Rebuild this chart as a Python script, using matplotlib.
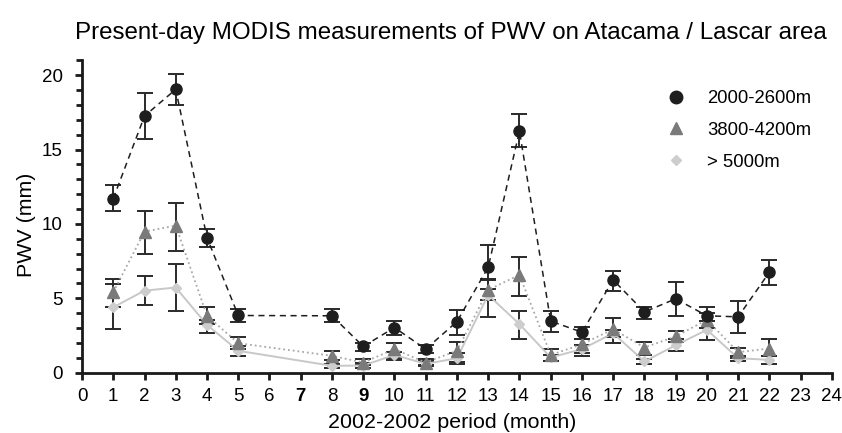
import matplotlib.pyplot as plt
import numpy as np

plt.rcParams['font.family'] = ['Liberation Sans', 'DejaVu Sans']

# month index of each measurement (no data for months 6 and 7)
months = [1, 2, 3, 4, 5, 8, 9, 10, 11, 12, 13, 14, 15, 16, 17, 18, 19, 20, 21, 22]

# 2000-2600m
low_val = [11.7, 17.25, 19.04, 9.08, 3.85, 3.83, 1.77, 3.04, 1.59, 3.44,
           7.09, 16.24, 3.47, 2.73, 6.24, 4.09, 4.97, 3.83, 3.76, 6.76]
low_lo = [10.87, 15.7, 18.0, 8.48, 3.4, 3.4, 1.48, 2.57, 1.32, 2.57,
          5.64, 15.15, 2.75, 2.28, 5.52, 3.64, 3.83, 3.47, 2.7, 5.9]
low_hi = [12.6, 18.77, 20.1, 9.64, 4.3, 4.27, 2.03, 3.51, 1.86, 4.23,
          8.59, 17.36, 4.16, 3.09, 6.86, 4.45, 6.1, 4.43, 4.83, 7.58]

# 3800-4200m
mid_val = [5.42, 9.48, 9.89, 3.83, 1.99, 1.14, 0.69, 1.59, 0.69, 1.48,
           5.57, 6.58, 1.2, 1.92, 2.93, 1.7, 2.44, 3.56, 1.39, 1.63]
mid_lo = [4.4, 7.97, 8.2, 3.3, 1.63, 0.87, 0.5, 0.83, 0.5, 0.6,
          3.78, 5.17, 0.76, 1.16, 1.99, 1.2, 2.08, 3.0, 0.98, 1.14]
mid_hi = [6.3, 10.87, 11.43, 4.45, 2.4, 1.48, 0.9, 1.99, 0.9, 2.1,
          6.24, 7.8, 1.59, 2.28, 3.71, 2.06, 2.82, 4.0, 1.68, 2.26]

# > 5000m
high_val = [4.4, 5.52, 5.73, 3.22, 1.48, 0.47, 0.49, 1.2, 0.6, 0.98,
            5.23, 3.27, 1.03, 1.59, 2.66, 0.76, 1.85, 2.89, 0.98, 0.87]
high_lo = [2.93, 4.55, 4.14, 2.7, 1.14, 0.35, 0.35, 1.0, 0.45, 0.7,
           4.9, 2.3, 0.8, 1.3, 2.4, 0.6, 1.48, 2.21, 0.8, 0.56]
high_hi = [5.95, 6.5, 7.3, 3.56, 1.81, 0.6, 0.65, 1.4, 0.8, 1.3,
           6.3, 4.16, 1.2, 1.9, 2.9, 0.95, 2.26, 3.47, 1.15, 1.16]

labels = ['2000-2600m', '3800-4200m', '> 5000m']
x_ticks = list(range(0, 25))


def err(val, lo, hi):
    v = np.array(val)
    return [v - np.array(lo), np.array(hi) - v]


fig = plt.figure(figsize=(8.42, 4.33), dpi=100)
ax = fig.add_axes([0.0974, 0.139, 0.8906, 0.722])

ebar_kw = dict(ecolor='#2a2a2a', elinewidth=1.4, capsize=5.5, capthick=1.4)

# error bars first, lines/markers on top
ax.errorbar(months, high_val, yerr=err(high_val, high_lo, high_hi), fmt='none', zorder=2, **ebar_kw)
ax.errorbar(months, mid_val, yerr=err(mid_val, mid_lo, mid_hi), fmt='none', zorder=2, **ebar_kw)
ax.errorbar(months, low_val, yerr=err(low_val, low_lo, low_hi), fmt='none', zorder=2, **ebar_kw)

ax.plot(months, high_val, color='#c8c8c8', lw=1.4, ls='-', marker='D',
        ms=5, mfc='#cdcdcd', mec='#cdcdcd', zorder=3)
ax.plot(months, mid_val, color='#a8a8a8', lw=1.3, ls=':', marker='^',
        ms=8, mfc='#7a7a7a', mec='#7a7a7a', zorder=4)
ax.plot(months, low_val, color='#1e1e1e', lw=1.1, ls=(0, (4, 3)), marker='o',
        ms=8, mfc='#1e1e1e', mec='#1e1e1e', zorder=5)

ax.set_xlim(0, 24)
ax.set_ylim(0, 21)
ax.set_xticks(x_ticks)
ax.set_yticks([0, 5, 10, 15, 20])
ax.set_yticks(range(0, 22), minor=True)
for s in ['top', 'right']:
    ax.spines[s].set_visible(False)
for s in ['left', 'bottom']:
    ax.spines[s].set_linewidth(2)
    ax.spines[s].set_color('#1a1a1a')
ax.tick_params(axis='both', which='major', direction='out', length=5, width=2,
               labelsize=13.5, color='#1a1a1a')
ax.tick_params(axis='x', which='major', pad=6)
ax.tick_params(axis='y', which='major', pad=9)
ax.tick_params(axis='y', which='minor', direction='out', length=4, width=2, color='#1a1a1a')
for t in ax.get_xticklabels():
    if t.get_text() in ('7', '9'):
        t.set_fontweight('bold')

ax.set_xlabel('2002-2002 period (month)', fontsize=15.4)
ax.xaxis.set_label_coords(0.494, -0.129)
ax.set_ylabel('PWV (mm)', fontsize=15.4)
ax.yaxis.set_label_coords(-0.062, 0.475)
fig.text(0.536, 0.924, 'Present-day MODIS measurements of PWV on Atacama / Lascar area',
         fontsize=17.4, ha='center', va='center')

# legend: markers only
leg_handles = [
    plt.Line2D([], [], ls='none', marker='o', ms=9, mfc='#1e1e1e', mec='#1e1e1e'),
    plt.Line2D([], [], ls='none', marker='^', ms=8, mfc='#7a7a7a', mec='#7a7a7a'),
    plt.Line2D([], [], ls='none', marker='D', ms=5, mfc='#cdcdcd', mec='#cdcdcd'),
]
ax.legend(leg_handles, labels, loc='upper left', bbox_to_anchor=(0.770, 0.928),
          frameon=False, fontsize=13.3, handlelength=1.0, handletextpad=1.2,
          labelspacing=0.8, borderaxespad=0, borderpad=0.4)

fig.savefig('out.png', dpi=100)
